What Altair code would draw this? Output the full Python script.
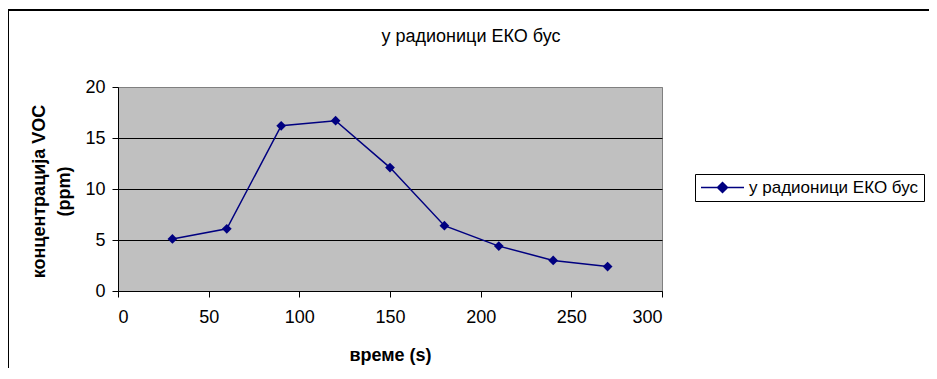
import altair as alt
import pandas as pd

time_s = [30, 60, 90, 120, 150, 180, 210, 240, 270]
voc_ppm = [5.1, 6.1, 16.2, 16.7, 12.1, 6.4, 4.4, 3.0, 2.4]
series_name = "у радионици ЕКО бус"
x_ticks = [0, 50, 100, 150, 200, 250, 300]
y_ticks = [0, 5, 10, 15, 20]
chart_title = "у радионици ЕКО бус"
x_title = "време (s)"
y_title = ["концентрација VOC", "(ppm)"]

FONT = "Liberation Sans"
NAVY = "#000080"
FS = 18

df = pd.DataFrame({"t": time_s, "voc": voc_ppm, "series": [series_name] * len(time_s)})
one = pd.DataFrame({"k": [0]})

border = alt.Chart(one).mark_rect(
    fillOpacity=0, stroke="black", strokeWidth=2
).encode(x=alt.value(-110), x2=alt.value(840), y=alt.value(-77), y2=alt.value(330))

title_mark = alt.Chart(one).mark_text(
    text=chart_title, font=FONT, fontSize=FS, color="black", align="center", baseline="middle"
).encode(x=alt.value(353), y=alt.value(-50))

line = alt.Chart(df).mark_line(
    strokeWidth=1.5,
    point=alt.OverlayMarkDef(shape="diamond", size=95, filled=True, opacity=1),
).encode(
    x=alt.X(
        "t:Q",
        scale=alt.Scale(domain=[0, 300], nice=False, zero=True),
        axis=alt.Axis(
            values=x_ticks, title=x_title, grid=False,
            labelFont=FONT, labelFontSize=FS, labelColor="black",
            titleFont=FONT, titleFontSize=FS, titleFontWeight="bold", titleColor="black",
            domainColor="black", tickColor="black", tickSize=6,
            labelPadding=11, titleY=64, titleBaseline="middle",
        ),
    ),
    y=alt.Y(
        "voc:Q",
        scale=alt.Scale(domain=[0, 20], nice=False),
        axis=alt.Axis(
            values=y_ticks, title=y_title, grid=True,
            gridColor={"condition": {"test": "datum.value == 20", "value": "#808080"}, "value": "black"},
            labelFont=FONT, labelFontSize=FS, labelColor="black",
            titleFont=FONT, titleFontSize=FS, titleFontWeight="bold", titleColor="black",
            domainColor="black", tickColor="black", tickSize=6,
            labelPadding=7, titleX=-79, titleY=104, titleBaseline="middle",
            titleAlign="center", titleLineHeight=25,
        ),
    ),
    color=alt.Color(
        "series:N",
        scale=alt.Scale(range=[NAVY]),
        legend=alt.Legend(
            title=None, orient="none", legendX=577, legendY=87,
            strokeColor="black", fillColor="white", padding=5,
            labelFont=FONT, labelFontSize=17, labelColor="black",
            labelOffset=18, labelLimit=400, symbolOffset=14,
            symbolType="M-4.3,0L4.3,0M0,-1L1,0L0,1L-1,0Z",
            symbolSize=100, symbolStrokeWidth=1.5,
            symbolFillColor=NAVY, symbolStrokeColor=NAVY,
        ),
    ),
)

chart = alt.layer(border, title_mark, line).properties(
    width=544,
    height=204,
    autosize="none",
    padding={"left": 110, "top": 79, "right": 267, "bottom": 77},
).configure_view(fill="#C0C0C0", stroke="#808080", strokeWidth=1)

chart.save("out.html", embed_options={"renderer": "svg", "actions": False})
